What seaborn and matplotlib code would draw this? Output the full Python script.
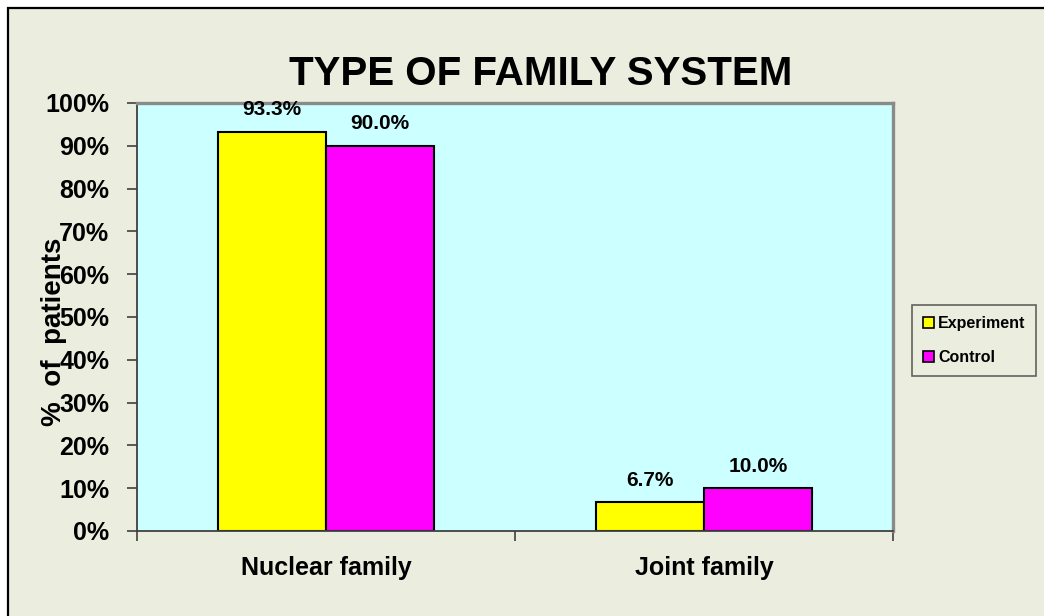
import matplotlib
matplotlib.use("Agg")
import matplotlib.pyplot as plt
from matplotlib import font_manager
from matplotlib.patches import Rectangle, Patch
from matplotlib.ticker import FuncFormatter, FixedLocator
import seaborn as sns
import pandas as pd

# Chart data
categories = ["Nuclear family", "Joint family"]
groups = ["Experiment", "Control"]
experiment = [93.3, 6.7]
control = [90.0, 10.0]
y_ticks = [0, 10, 20, 30, 40, 50, 60, 70, 80, 90, 100]

colors = {"Experiment": "#FFFF00", "Control": "#FF00FF"}
bg = "#EBEDDE"
plot_bg = "#CCFFFF"

sns.set_theme(style="white")
installed = {f.name for f in font_manager.fontManager.ttflist}
base_font = "Liberation Sans" if "Liberation Sans" in installed else "DejaVu Sans"
plt.rcParams["font.family"] = [base_font, "DejaVu Sans"]
plt.rcParams.update({
    "text.color": "black",
    "axes.labelcolor": "black",
    "xtick.color": "black",
    "ytick.color": "black",
    "xtick.bottom": True,
    "ytick.left": True,
})

df = pd.DataFrame({
    "family": categories * 2,
    "group": [groups[0]] * len(categories) + [groups[1]] * len(categories),
    "pct": experiment + control,
})

fig = plt.figure(figsize=(10.44, 6.16), dpi=100)
fig.patch.set_facecolor("white")
# Framed panel background
frame = Rectangle((8 / 1044, -0.1), 1.2, 1 - 8 / 616 + 0.1, transform=fig.transFigure,
                  facecolor=bg, edgecolor="black", linewidth=1.6, zorder=-10)
fig.patches.append(frame)

ax = fig.add_axes([137 / 1044, 1 - 531 / 616, (893 - 137) / 1044, (531 - 103) / 616])
ax.set_facecolor(plot_bg)

sns.barplot(data=df, x="family", y="pct", hue="group", hue_order=groups,
            order=categories, palette=colors, width=0.571, saturation=1,
            edgecolor="black", linewidth=1.5, ax=ax, legend=False)

ax.set_xlim(-0.5, 1.5)
ax.set_ylim(0, 100)
ax.set_yticks(y_ticks)
ax.yaxis.set_major_formatter(FuncFormatter(lambda v, p: f"{int(round(v))}%"))
ax.tick_params(axis="y", which="major", left=True, direction="out", length=7, width=1.2,
               color="#404040", labelcolor="black", pad=13, labelsize=18)
for lbl in ax.get_yticklabels():
    lbl.set_fontweight("bold")

# Category ticks sit at the group boundaries
ax.xaxis.set_minor_locator(FixedLocator([-0.5, 0.5, 1.5]))
ax.tick_params(axis="x", which="minor", bottom=True, direction="out", length=7, width=1.2,
               color="#404040")
ax.tick_params(axis="x", which="major", length=0, pad=18, labelsize=18, labelcolor="black")
for lbl in ax.get_xticklabels():
    lbl.set_fontweight("bold")

ax.set_xlabel("")
ax.set_ylabel("%  of  patients", fontsize=20, fontweight="bold", color="black")
ax.yaxis.set_label_coords(-0.092, 0.465)

for side in ["left", "bottom"]:
    ax.spines[side].set_color("#404040")
    ax.spines[side].set_linewidth(1.3)
for side in ["top", "right"]:
    ax.spines[side].set_color("#8A8A8A")
    ax.spines[side].set_linewidth(2.4)

# Value labels above each bar
for container in ax.containers:
    ax.bar_label(container, fmt="%.1f%%", padding=9, fontsize=15, fontweight="bold",
                 color="black")

# Title
fig.text(541 / 1044, 1 - 85 / 616, "TYPE OF FAMILY SYSTEM", ha="center", va="baseline",
         fontsize=29, fontweight="bold", color="black")

handles = [Patch(facecolor=colors[g], edgecolor="black", linewidth=1.2, label=g) for g in groups]
leg = fig.legend(handles=handles, loc="center", bbox_to_anchor=(974 / 1044, 1 - 340.5 / 616),
                 frameon=True, fancybox=False, edgecolor="#404040", facecolor=bg,
                 prop={"weight": "bold", "size": 11.5}, handlelength=0.7, handleheight=0.7,
                 handletextpad=0.25, labelspacing=1.15, borderpad=0.7, borderaxespad=0)
leg.get_frame().set_linewidth(1.2)
for t in leg.get_texts():
    t.set_color("black")

fig.savefig("out.png", dpi=100, facecolor=fig.get_facecolor())
